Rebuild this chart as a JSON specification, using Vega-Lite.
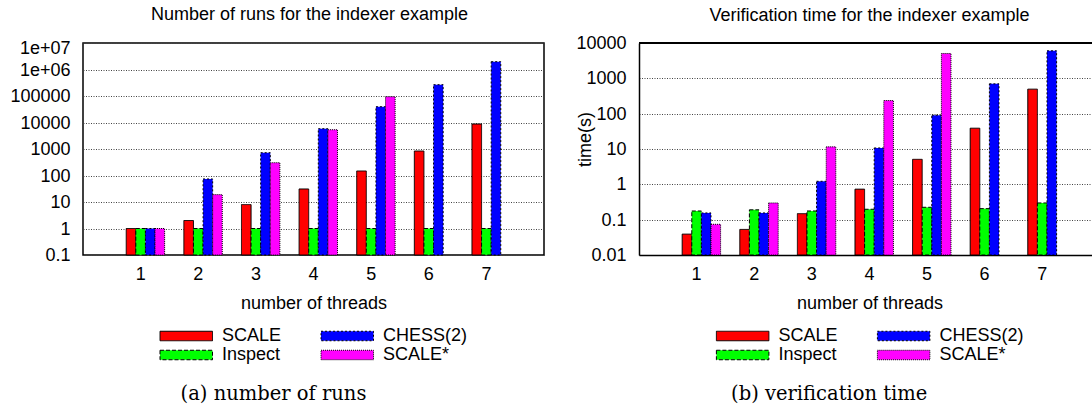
{
  "$schema": "https://vega.github.io/schema/vega-lite/v6.json",
  "background": "white",
  "padding": {"left": 9, "top": 5, "right": 0, "bottom": 0},
  "autosize": {"type": "pad"},
  "config": {
    "font": "Liberation Sans",
    "view": {"stroke": "black", "strokeWidth": 1.5},
    "axis": {"labelFont": "Liberation Sans", "labelFontSize": 18, "labelColor": "black", "titleFont": "Liberation Sans", "titleFontSize": 18, "titleFontWeight": "normal", "titleColor": "black", "ticks": false, "domain": false},
    "title": {"font": "Liberation Sans", "fontSize": 18, "fontWeight": "normal", "color": "black", "frame": "group", "anchor": "middle", "baseline": "alphabetic"},
    "legend": {"padding": 0}
  },
  "datasets": {
    "runs": [
      {"threads": "1", "series": "SCALE", "value": 1},
      {"threads": "1", "series": "Inspect", "value": 1},
      {"threads": "1", "series": "CHESS(2)", "value": 1},
      {"threads": "1", "series": "SCALE*", "value": 1},
      {"threads": "2", "series": "SCALE", "value": 2},
      {"threads": "2", "series": "Inspect", "value": 1},
      {"threads": "2", "series": "CHESS(2)", "value": 74},
      {"threads": "2", "series": "SCALE*", "value": 19},
      {"threads": "3", "series": "SCALE", "value": 8},
      {"threads": "3", "series": "Inspect", "value": 1},
      {"threads": "3", "series": "CHESS(2)", "value": 724},
      {"threads": "3", "series": "SCALE*", "value": 304},
      {"threads": "4", "series": "SCALE", "value": 31},
      {"threads": "4", "series": "Inspect", "value": 1},
      {"threads": "4", "series": "CHESS(2)", "value": 5830},
      {"threads": "4", "series": "SCALE*", "value": 5350},
      {"threads": "5", "series": "SCALE", "value": 148},
      {"threads": "5", "series": "Inspect", "value": 1},
      {"threads": "5", "series": "CHESS(2)", "value": 39400},
      {"threads": "5", "series": "SCALE*", "value": 94200},
      {"threads": "6", "series": "SCALE", "value": 840},
      {"threads": "6", "series": "Inspect", "value": 1},
      {"threads": "6", "series": "CHESS(2)", "value": 267000},
      {"threads": "7", "series": "SCALE", "value": 8770},
      {"threads": "7", "series": "Inspect", "value": 1},
      {"threads": "7", "series": "CHESS(2)", "value": 1970000}
    ],
    "time": [
      {"threads": "1", "series": "SCALE", "value": 0.039},
      {"threads": "1", "series": "Inspect", "value": 0.176},
      {"threads": "1", "series": "CHESS(2)", "value": 0.155},
      {"threads": "1", "series": "SCALE*", "value": 0.074},
      {"threads": "2", "series": "SCALE", "value": 0.053},
      {"threads": "2", "series": "Inspect", "value": 0.19},
      {"threads": "2", "series": "CHESS(2)", "value": 0.155},
      {"threads": "2", "series": "SCALE*", "value": 0.297},
      {"threads": "3", "series": "SCALE", "value": 0.148},
      {"threads": "3", "series": "Inspect", "value": 0.176},
      {"threads": "3", "series": "CHESS(2)", "value": 1.22},
      {"threads": "3", "series": "SCALE*", "value": 11.5},
      {"threads": "4", "series": "SCALE", "value": 0.73},
      {"threads": "4", "series": "Inspect", "value": 0.197},
      {"threads": "4", "series": "CHESS(2)", "value": 10.7},
      {"threads": "4", "series": "SCALE*", "value": 235},
      {"threads": "5", "series": "SCALE", "value": 5.1},
      {"threads": "5", "series": "Inspect", "value": 0.224},
      {"threads": "5", "series": "CHESS(2)", "value": 90.6},
      {"threads": "5", "series": "SCALE*", "value": 5050},
      {"threads": "6", "series": "SCALE", "value": 38.8},
      {"threads": "6", "series": "Inspect", "value": 0.205},
      {"threads": "6", "series": "CHESS(2)", "value": 698},
      {"threads": "7", "series": "SCALE", "value": 494},
      {"threads": "7", "series": "Inspect", "value": 0.297},
      {"threads": "7", "series": "CHESS(2)", "value": 6010}
    ]
  },
  "resolve": {"scale": {"color": "independent", "strokeDash": "independent"}, "legend": {"color": "independent", "strokeDash": "independent"}},
  "spacing": 30,
  "hconcat": [
    {
      "bounds": "flush",
      "spacing": 129,
      "vconcat": [
        {
          "title": {"text": "Number of runs for the indexer example", "offset": 15.5, "dx": -4},
          "width": 461,
          "height": 212,
          "data": {"name": "runs"},
          "mark": {"type": "bar", "stroke": "black", "strokeWidth": 1},
          "encoding": {
            "x": {"field": "threads", "type": "nominal",
              "scale": {"domain": ["1", "2", "3", "4", "5", "6", "7"], "paddingInner": 0.3333, "paddingOuter": 0.6667, "align": 0.5625},
              "axis": {"title": "number of threads", "labelAngle": 0, "labelOffset": -4.8, "labelPadding": 10, "titlePadding": 11}},
            "xOffset": {"field": "series", "type": "nominal", "scale": {"domain": ["SCALE", "Inspect", "CHESS(2)", "SCALE*"], "paddingInner": 0, "paddingOuter": 0}},
            "y": {"field": "value", "type": "quantitative", "stack": null,
              "scale": {"type": "log", "domain": [0.1, 10000000], "nice": false},
              "axis": {"title": null, "values": [0.1, 1, 10, 100, 1000, 10000, 100000, 1000000, 10000000],
                "labelExpr": "datum.value >= 10000000 ? '1e+07' : (datum.value >= 1000000 ? '1e+06' : format(datum.value, '~g'))",
                "labelOverlap": false, "labelBaseline": "middle",
                "grid": true, "gridDash": [1, 1.5], "gridColor": "#444", "gridWidth": 1, "labelPadding": 13,
                "labelOffset": {"condition": {"test": "datum.value >= 10000000", "value": 5.5}, "value": 0.5}}},
            "y2": {"datum": 0.1},
            "color": {"field": "series", "type": "nominal",
              "scale": {"domain": ["SCALE", "Inspect", "CHESS(2)", "SCALE*"], "range": ["#ff0000", "#00ff00", "#0000ff", "#ff00ff"]},
              "legend": {"orient": "none", "legendX": 73, "legendY": 284, "title": null, "columns": 2, "columnPadding": 35, "rowPadding": 1, "symbolType": "M-1,-0.95H9.5V0.95H-1Z", "symbolSize": 100, "labelOffset": 48, "labelFontSize": 18, "labelFont": "Liberation Sans", "labelColor": "black", "labelLimit": 300, "symbolStrokeColor": "black", "symbolStrokeWidth": 1, "encode": {"symbols": {"update": {"stroke": {"value": "black"}, "strokeWidth": {"value": 1}}}}}},
            "strokeDash": {"field": "series", "type": "nominal",
              "scale": {"domain": ["SCALE", "Inspect", "CHESS(2)", "SCALE*"], "range": [[1, 0], [4, 2], [2, 2], [1, 1]]},
              "legend": {"orient": "none", "legendX": 73, "legendY": 284, "title": null, "columns": 2, "columnPadding": 35, "rowPadding": 1, "symbolType": "M-1,-0.95H9.5V0.95H-1Z", "symbolSize": 100, "labelOffset": 48, "labelFontSize": 18, "labelFont": "Liberation Sans", "labelColor": "black", "labelLimit": 300, "symbolStrokeColor": "black", "symbolStrokeWidth": 1, "encode": {"symbols": {"update": {"stroke": {"value": "black"}, "strokeWidth": {"value": 1}}}}}}
          }
        },
        {
          "width": 461,
          "height": 20,
          "view": {"stroke": null},
          "data": {"values": [{"caption": "(a) number of runs"}]},
          "mark": {"type": "text", "font": "DejaVu Serif", "fontSize": 19.5, "dx": -40, "baseline": "middle", "color": "black"},
          "encoding": {"text": {"field": "caption", "type": "nominal"}}
        }
      ]
    },
    {
      "bounds": "flush",
      "spacing": 129,
      "vconcat": [
        {
          "title": {"text": "Verification time for the indexer example", "offset": 10, "dx": 3.5},
          "width": 454,
          "height": 212,
          "view": {"stroke": null},
          "data": {"name": "time"},
          "layer": [
            {
              "mark": {"type": "bar", "stroke": "black", "strokeWidth": 1},
              "encoding": {
                "x": {"field": "threads", "type": "nominal",
                  "scale": {"domain": ["1", "2", "3", "4", "5", "6", "7"], "paddingInner": 0.3333, "paddingOuter": 0.6076, "align": 0.617},
                  "axis": {"title": "number of threads", "labelAngle": 0, "labelOffset": -4.8, "labelPadding": 10, "titlePadding": 11, "titleX": 230.5, "domain": true, "domainColor": "black", "domainWidth": 1.5}},
                "xOffset": {"field": "series", "type": "nominal", "scale": {"domain": ["SCALE", "Inspect", "CHESS(2)", "SCALE*"], "paddingInner": 0, "paddingOuter": 0}},
                "y": {"field": "value", "type": "quantitative", "stack": null,
                  "scale": {"type": "log", "domain": [0.01, 10000], "nice": false},
                  "axis": {"title": "time(s)", "values": [0.01, 0.1, 1, 10, 100, 1000, 10000],
                    "labelExpr": "format(datum.value, '~g')", "labelOverlap": false, "labelOffset": 0.5,
                    "grid": true, "gridDash": [1, 1.5], "gridColor": "#444", "gridWidth": 1, "labelPadding": 13,
                    "domain": true, "domainColor": "black", "domainWidth": 1.5,
                    "titleX": -54, "titleY": 96, "titleAngle": 270, "titleBaseline": "middle", "titleAlign": "center"}},
                "y2": {"datum": 0.01},
                "color": {"field": "series", "type": "nominal",
                  "scale": {"domain": ["SCALE", "Inspect", "CHESS(2)", "SCALE*"], "range": ["#ff0000", "#00ff00", "#0000ff", "#ff00ff"]},
                  "legend": {"orient": "none", "legendX": 73.4, "legendY": 284, "title": null, "columns": 2, "columnPadding": 35, "rowPadding": 1, "symbolType": "M-1,-0.95H9.5V0.95H-1Z", "symbolSize": 100, "labelOffset": 48, "labelFontSize": 18, "labelFont": "Liberation Sans", "labelColor": "black", "labelLimit": 300, "symbolStrokeColor": "black", "symbolStrokeWidth": 1, "encode": {"symbols": {"update": {"stroke": {"value": "black"}, "strokeWidth": {"value": 1}}}}}},
                "strokeDash": {"field": "series", "type": "nominal",
                  "scale": {"domain": ["SCALE", "Inspect", "CHESS(2)", "SCALE*"], "range": [[1, 0], [4, 2], [2, 2], [1, 1]]},
                  "legend": {"orient": "none", "legendX": 73.4, "legendY": 284, "title": null, "columns": 2, "columnPadding": 35, "rowPadding": 1, "symbolType": "M-1,-0.95H9.5V0.95H-1Z", "symbolSize": 100, "labelOffset": 48, "labelFontSize": 18, "labelFont": "Liberation Sans", "labelColor": "black", "labelLimit": 300, "symbolStrokeColor": "black", "symbolStrokeWidth": 1, "encode": {"symbols": {"update": {"stroke": {"value": "black"}, "strokeWidth": {"value": 1}}}}}}
              }
            },
            {
              "mark": {"type": "rule", "color": "black", "strokeWidth": 1.5},
              "encoding": {"y": {"datum": 10000}}
            }
          ]
        },
        {
          "width": 454,
          "height": 20,
          "view": {"stroke": null},
          "data": {"values": [{"caption": "(b) verification time"}]},
          "mark": {"type": "text", "font": "DejaVu Serif", "fontSize": 19.5, "dx": -36.8, "baseline": "middle", "color": "black"},
          "encoding": {"text": {"field": "caption", "type": "nominal"}}
        }
      ]
    }
  ]
}
